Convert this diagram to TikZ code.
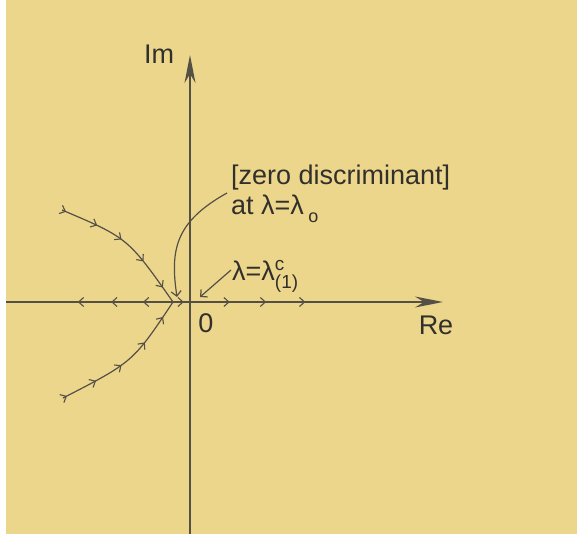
\documentclass[tikz,border=0pt]{standalone}
\usepackage{fontspec}
\usepackage{amsmath}
\setmainfont{Liberation Sans}
\usetikzlibrary{arrows.meta,decorations.markings}
\definecolor{paper}{RGB}{236,214,140}
\definecolor{ink}{RGB}{84,80,70}
\definecolor{txt}{RGB}{50,48,44}
\tikzset{
  axisline/.style={draw=ink, line width=1.4pt},
  locus/.style={draw=ink, line width=1.2pt},
  barb/.style={-{Straight Barb[length=5pt,width=10pt]}, draw=ink, line width=1.2pt},
  lbl/.style={text=txt, font=\fontsize{27}{32}\selectfont, inner sep=0pt},
  mk/.style={postaction={decorate, decoration={markings,
     mark=at position #1 with {\arrow[ink, line width=1.1pt]{Straight Barb[length=5pt,width=9pt]}}}}},
}
\begin{document}
\begin{tikzpicture}[x=1pt,y=-1pt]
\useasboundingbox (0,0) rectangle (577,534);
\fill[white] (0,0) rectangle (577,534);
\fill[paper] (6,0) rectangle (577,534);
% coordinates
\coordinate (B) at (173,302);
\coordinate (W) at (6,302);
\coordinate (E) at (443,302);
\coordinate (S) at (190,534);
\coordinate (N) at (190,55);
\coordinate (U) at (62,210);
\coordinate (L) at (63,398);
% axes
\draw[axisline, -{Stealth[length=28pt,width=11pt,inset=9pt]}] (S) -- (N);
\draw[axisline] (B) -- (W);
\draw[axisline, -{Stealth[length=28pt,width=11pt,inset=9pt]}] (B) -- (E);
% arrow marks on the real axis
\path[mk=0.18, mk=0.37, mk=0.57] (B) -- (W);
\path[mk=0.04, mk=0.21, mk=0.345, mk=0.49] (B) -- (E);
% complex branches
\draw[locus, mk=0.03, mk=0.26, mk=0.45, mk=0.66, mk=0.88]
   (U) .. controls (128,238) .. (B);
\draw[locus, mk=0.03, mk=0.25, mk=0.45, mk=0.67, mk=0.88]
   (L) .. controls (133,362) .. (B);
% labels
\node[lbl] (im) at (159,54) {Im};
\node[lbl] (zero) at (206,323) {0};
\node[lbl] (re) at (436,325) {Re};
\node[lbl, anchor=base west] (zd) at (231,185) {[zero discriminant]};
\node[lbl, anchor=base west] (at) at (231,215) {at λ=λ\,\raisebox{-8pt}{\fontsize{18}{18}\selectfont o}};
\node[lbl, anchor=base west] (lc) at (232,280) {λ=λ$^{\text{c}}_{\text{(1)}}$};
% pointers
\coordinate (zs) at (227,193);
\coordinate (zt) at (177,297);
\coordinate (ls) at (231,270);
\coordinate (lt) at (200,297);
\draw[barb] (zs) .. controls (175,222) and (170,250) .. (zt);
\draw[barb] (ls) -- (lt);
\end{tikzpicture}
\end{document}
